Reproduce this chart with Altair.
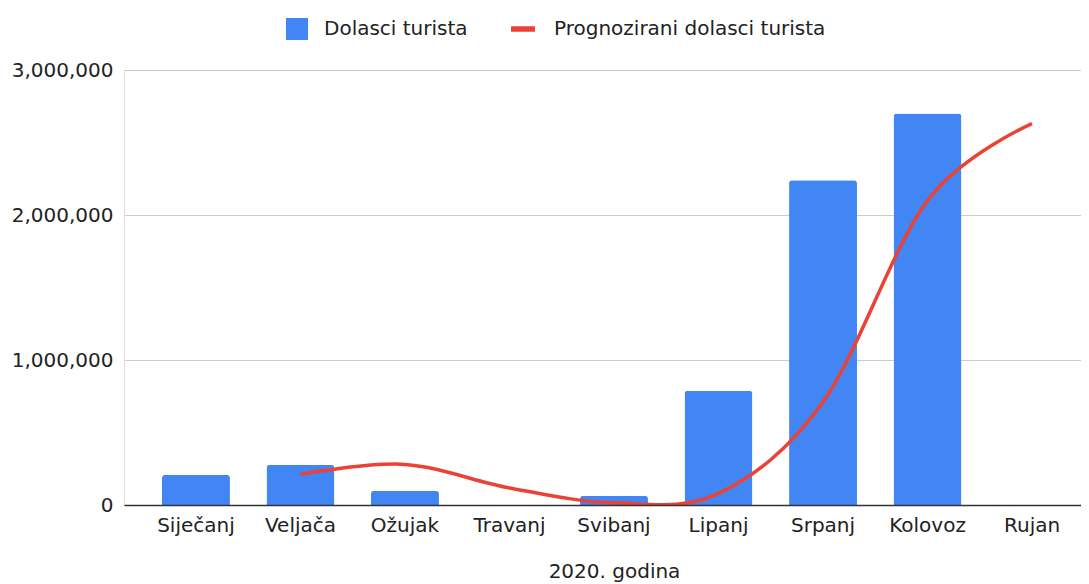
import altair as alt
import pandas as pd

months = ["Siječanj", "Veljača", "Ožujak", "Travanj", "Svibanj",
          "Lipanj", "Srpanj", "Kolovoz", "Rujan"]
arrivals = [207000, 276000, 99000, None, 64000, 788000, 2240000, 2700000, None]
forecast = [None, 212000, 280000, 117000, 15000, 80000, 710000, 2100000, 2630000]
y_ticks = [0, 1000000, 2000000, 3000000]

BAR_NAME = "Dolasci turista"
LINE_NAME = "Prognozirani dolasci turista"
FONT = "DejaVu Sans"
TXT = "#222222"

bars_df = pd.DataFrame({"month": months, "value": arrivals, "series": BAR_NAME}).dropna()
line_df = pd.DataFrame({"month": months, "value": forecast, "series": LINE_NAME}).dropna()

x_enc = alt.X(
    "month:N",
    sort=months,
    scale=alt.Scale(domain=months, paddingInner=0.35, paddingOuter=0.2536, align=0.717),
    axis=alt.Axis(
        title="2020. godina",
        labelAngle=0,
        labelFontSize=20,
        labelFont=FONT,
        labelColor=TXT,
        labelPadding=10,
        ticks=False,
        domainColor="#333333",
        domainWidth=1.5,
        grid=False,
        titleFont=FONT,
        titleFontSize=20,
        titleFontWeight="normal",
        titleColor=TXT,
        titleX=490,
        titleY=72,
        titleAlign="center",
        titleBaseline="alphabetic",
        zindex=1,
    ),
)

y_enc = alt.Y(
    "value:Q",
    scale=alt.Scale(domain=[0, 3000000], nice=False),
    axis=alt.Axis(
        title=None,
        values=y_ticks,
        format=",d",
        labelFontSize=20,
        labelFont=FONT,
        labelColor=TXT,
        labelPadding=11,
        ticks=False,
        domain=False,
        gridColor="#cccccc",
        gridWidth=1,
    ),
)

bars = alt.Chart(bars_df).mark_bar(
    cornerRadiusTopLeft=3, cornerRadiusTopRight=3
).encode(
    x=x_enc,
    y=y_enc,
    color=alt.Color(
        "series:N",
        scale=alt.Scale(domain=[BAR_NAME], range=["#4285F4"]),
        legend=alt.Legend(
            orient="none", legendX=162, legendY=-52, title=None,
            symbolType="square", symbolSize=484, symbolStrokeWidth=0,
            labelFontSize=20, labelFont=FONT, labelColor=TXT,
            labelOffset=16, padding=0, labelLimit=600,
        ),
    ),
)

line = alt.Chart(line_df).mark_line(
    interpolate="cardinal", strokeWidth=3.5, clip=True
).encode(
    x=alt.X("month:N", sort=months),
    y=alt.Y("value:Q"),
    stroke=alt.Stroke(
        "series:N",
        scale=alt.Scale(domain=[LINE_NAME], range=["#EA4335"]),
        legend=alt.Legend(
            orient="none", legendX=384, legendY=-56, title=None,
            symbolType="stroke", symbolSize=576, symbolStrokeWidth=5.5,
            labelFontSize=20, labelFont=FONT, labelColor=TXT,
            labelOffset=16, padding=0, labelLimit=600,
        ),
    ),
)

chart = alt.layer(bars, line).properties(
    width=957,
    height=435,
    padding={"left": 116, "top": 62, "right": 0, "bottom": 79},
    autosize=alt.AutoSizeParams(type="none"),
).configure_view(stroke=None).configure(background="white")

chart.save("out.html", embed_options={"renderer": "svg", "actions": False})
